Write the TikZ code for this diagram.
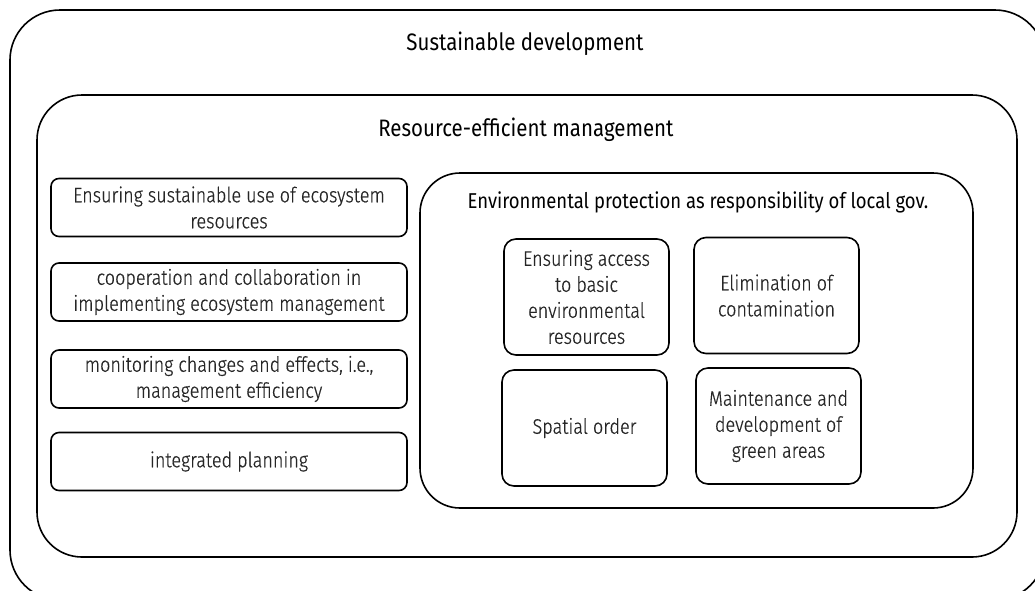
\documentclass[tikz,border=0pt]{standalone}
\usepackage{fontspec}
\setmainfont{Fira Sans}[FakeStretch=0.86]
\newfontfamily\lightfont{Fira Sans Light}[FakeStretch=0.86, FakeBold=0.5]
\usepackage{tikz}
\usetikzlibrary{positioning}

\begin{document}
\begin{tikzpicture}[
    x=1pt, y=-1pt,
    font=\lightfont\fontsize{21}{26}\selectfont,
    baseBox/.style={
        rectangle,
        draw=black,
        line width=1.6pt,
        align=center,
        inner sep=0pt
    },
    frame/.style={baseBox, rounded corners=#1},
    item/.style={baseBox, rounded corners=8pt, minimum width=356pt, minimum height=58pt, text=black!85},
    task/.style={baseBox, rounded corners=12pt, minimum width=165pt, minimum height=116pt, text=black!85},
    heading/.style={font=\fontsize{23.8}{26}\selectfont, text=black}
]
    \useasboundingbox (0,0) rectangle (1035,590);

    % --- 1. Nested frames ---
    \node[frame=50pt, minimum width=1035pt, minimum height=590pt] (sd) at (527.5,305) {};
    \node[heading] (sdTitle) at (525,44) {Sustainable development};

    \node[frame=45pt, minimum width=980pt, minimum height=462pt] (rem) at (527,326) {};
    \node[heading] (remTitle) at (526,130) {Resource-efficient management};

    \node[frame=40pt, minimum width=553pt, minimum height=335pt] (env) at (696.5,340.5) {};
    \node[heading, font=\fontsize{21.5}{26}\selectfont] (envTitle) at (698,202) {Environmental protection as responsibility of local gov.};

    % --- 2. Management principles ---
    \node[item] (use) at (229,207.5) {Ensuring sustainable use of ecosystem\\resources};
    \node[item] (coop) at (229,292) {cooperation and collaboration in\\implementing ecosystem management};
    \node[item] (monit) at (229,379) {monitoring changes and effects, i.e.,\\management efficiency};
    \node[item] (plan) at (229,461.5) {integrated planning};

    % --- 3. Local government tasks ---
    \node[task] (access) at (586.5,297) {Ensuring access\\to basic\\environmental\\resources};
    \node[task] (contam) at (776.5,295.5) {Elimination of\\contamination};
    \node[task] (spatial) at (584.5,428) {Spatial order};
    \node[task] (green) at (778.5,426) {Maintenance and\\development of\\green areas};
\end{tikzpicture}
\end{document}
